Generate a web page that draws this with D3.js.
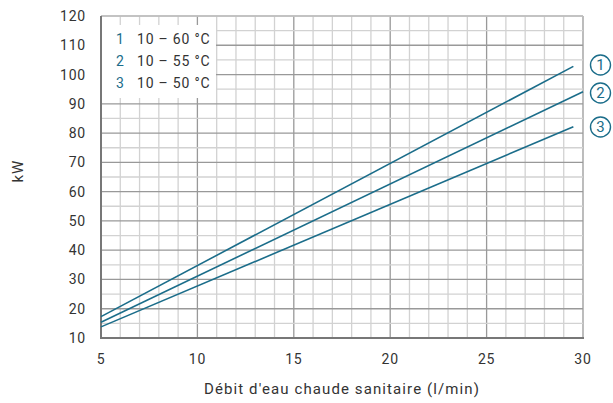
<!DOCTYPE html>
<html>
<head>
<meta charset="utf-8">
<script src="https://cdn.jsdelivr.net/npm/d3@7"></script>
<style>
  body { margin: 0; background: #fff; }
  text { font-family: Roboto, "Liberation Sans", sans-serif; fill: #333; letter-spacing: 0.8px; }
</style>
</head>
<body>
<div id="chart"></div>
<script>
// curve endpoints (flow l/min, kW)
const series = ["1", "2", "3"];
const legendLabels = ["10 – 60 °C", "10 – 55 °C", "10 – 50 °C"];
const flowStart = [5, 5, 5];
const flowEnd = [29.5, 30, 29.5];
const kwStart = [17.3, 15.4, 13.8];
const kwEnd = [102.8, 94.1, 82.2];
const xTicks = [5, 10, 15, 20, 25, 30];
const yTicks = [10, 20, 30, 40, 50, 60, 70, 80, 90, 100, 110, 120];

const width = 613, height = 403;
const margin = { top: 16, right: 30, bottom: 65, left: 101 };
const teal = "#1b6d8a";

const svg = d3.select("#chart").append("svg")
  .attr("width", width)
  .attr("height", height);

const x = d3.scaleLinear().domain([5, 30]).range([margin.left, width - margin.right]);
const y = d3.scaleLinear().domain([10, 120]).range([height - margin.bottom, margin.top]);

const grid = svg.append("g");

// vertical grid, every 1 l/min, darker every 5
grid.selectAll(".vx")
  .data(d3.range(6, 31))
  .join("line")
  .attr("x1", d => x(d)).attr("x2", d => x(d))
  .attr("y1", y(120)).attr("y2", y(10))
  .attr("stroke", d => d % 5 === 0 ? "#999" : "#d2d2d2")
  .attr("stroke-width", 1.3);

// horizontal grid, every 5 kW, darker every 10
grid.selectAll(".hy")
  .data(d3.range(15, 121, 5))
  .join("line")
  .attr("x1", x(5)).attr("x2", x(30))
  .attr("y1", d => y(d)).attr("y2", d => y(d))
  .attr("stroke", d => d % 10 === 0 ? "#999" : "#d2d2d2")
  .attr("stroke-width", 1.3);

svg.append("line").attr("x1", x(5)).attr("x2", x(30)).attr("y1", y(120)).attr("y2", y(120))
  .attr("stroke", "#c8c8c8").attr("stroke-width", 1.3);

// legend box (covers the grid)
const leg = svg.append("g");
leg.append("rect")
  .attr("x", x(5) + 1).attr("y", 25)
  .attr("width", 114).attr("height", 73)
  .attr("fill", "#fff");
series.forEach((s, i) => {
  const ly = 44 + i * 22;
  leg.append("text").attr("x", 116).attr("y", ly)
    .attr("font-size", 14).style("fill", teal).text(s);
  leg.append("text").attr("x", 137).attr("y", ly)
    .attr("font-size", 14).text(legendLabels[i]);
});

// axes lines
svg.append("line").attr("x1", x(5)).attr("x2", x(5)).attr("y1", y(120)).attr("y2", y(10) + 1)
  .attr("stroke", "#777").attr("stroke-width", 2);
svg.append("line").attr("x1", x(5) - 1).attr("x2", x(30) + 1).attr("y1", y(10)).attr("y2", y(10))
  .attr("stroke", "#777").attr("stroke-width", 2);

// curves
const lineGen = d3.line().x(d => x(d[0])).y(d => y(d[1]));
svg.selectAll(".curve")
  .data(series.map((s, i) => [[flowStart[i], kwStart[i]], [flowEnd[i], kwEnd[i]]]))
  .join("path")
  .attr("class", "curve")
  .attr("d", lineGen)
  .attr("fill", "none")
  .attr("stroke", teal)
  .attr("stroke-width", 1.6);

// circled labels on the right
const circY = [65, 93, 127];
series.forEach((s, i) => {
  const g = svg.append("g").attr("transform", `translate(600.5,${circY[i]})`);
  g.append("circle").attr("r", 10).attr("fill", "none").attr("stroke", teal).attr("stroke-width", 1.4);
  g.append("text").attr("text-anchor", "middle").attr("dy", "0.36em")
    .attr("font-size", 15).style("letter-spacing", "0px").style("fill", teal).text(s);
});

// tick labels
svg.append("g").selectAll("text")
  .data(yTicks)
  .join("text")
  .attr("x", x(5) - 15).attr("y", d => y(d))
  .attr("dy", "0.36em")
  .attr("text-anchor", "end")
  .attr("font-size", 14)
  .text(d => d);

svg.append("g").selectAll("text")
  .data(xTicks)
  .join("text")
  .attr("x", d => x(d)).attr("y", y(10) + 26)
  .attr("text-anchor", "middle")
  .attr("font-size", 14)
  .text(d => d);

// axis titles
svg.append("text")
  .attr("x", x(17.5)).attr("y", 394)
  .attr("text-anchor", "middle")
  .attr("font-size", 15)
  .style("letter-spacing", "1.1px")
  .text("Débit d'eau chaude sanitaire (l/min)");

svg.append("text")
  .attr("transform", `translate(23,${y(67)}) rotate(-90)`)
  .attr("text-anchor", "middle")
  .attr("font-size", 15)
  .text("kW");
</script>
</body>
</html>
